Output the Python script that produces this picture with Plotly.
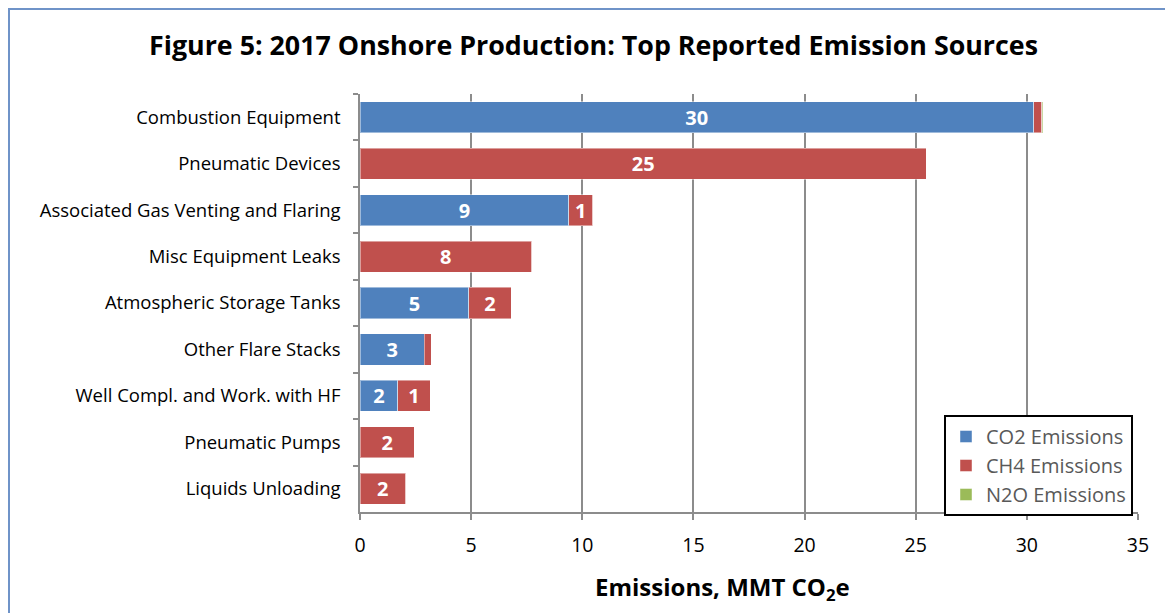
import plotly.graph_objects as go

categories = ["Combustion Equipment", "Pneumatic Devices", "Associated Gas Venting and Flaring",
              "Misc Equipment Leaks", "Atmospheric Storage Tanks", "Other Flare Stacks",
              "Well Compl. and Work. with HF", "Pneumatic Pumps", "Liquids Unloading"]
co2 = [30.3, 0.02, 9.4, 0.0, 4.9, 2.9, 1.7, 0.0, 0.0]
ch4 = [0.37, 25.45, 1.07, 7.72, 1.9, 0.3, 1.45, 2.45, 2.05]
n2o = [0.05, 0.0, 0.0, 0.0, 0.0, 0.0, 0.0, 0.0, 0.0]
x_ticks = [0, 5, 10, 15, 20, 25, 30, 35]

FONT = "Open Sans"
def labels(vals):
    return [f"{round(v)}" if v >= 0.5 else "" for v in vals]

fig = go.Figure()
for name, vals, color in [("CO2 Emissions", co2, "#4F81BD"),
                          ("CH4 Emissions", ch4, "#C0504D"),
                          ("N2O Emissions", n2o, "#9BBB59")]:
    fig.add_trace(go.Bar(
        y=categories, x=vals, name=name, orientation="h",
        marker=dict(color=color, line=dict(color="rgba(255,255,255,0.45)", width=1)),
        text=labels(vals), textposition="inside", insidetextanchor="middle",
        textangle=0, constraintext="none",
        textfont=dict(family=FONT, size=20, color="white", weight="bold"),
        hoverinfo="x+name"))

# page has an 8px body margin; plot area targets page x 360-1138, y 94-512
fig.update_layout(
    barmode="stack", bargap=0.33,
    width=1165, height=605,
    margin=dict(l=352, r=35, t=86, b=101),
    paper_bgcolor="white", plot_bgcolor="white",
    title=dict(text="<b>Figure 5: 2017 Onshore Production: Top Reported Emission Sources</b>",
               x=(593.5 - 8) / 1165, xanchor="center", y=1 - 38 / 605, yanchor="middle",
               font=dict(family=FONT, size=26.8, color="black")),
    font=dict(family=FONT, color="black"),
    showlegend=True,
    legend=dict(x=(944 - 360) / 778, y=(512 - 415) / 418, xanchor="left", yanchor="top",
                bordercolor="black", borderwidth=2, bgcolor="white",
                font=dict(family=FONT, size=20, color="#595959"),
                traceorder="normal", itemwidth=30, tracegroupgap=0),
    xaxis=dict(range=[0, 35], tickvals=x_ticks, showgrid=True,
               gridcolor="#8C8C8C", gridwidth=1.5,
               showline=True, linecolor="#8C8C8C", linewidth=1.5,
               ticks="outside", ticklen=6, tickcolor="#8C8C8C", tickwidth=1.5,
               ticklabelstandoff=9,
               tickfont=dict(family=FONT, size=19.5, color="black"),
               zeroline=False, fixedrange=True),
    yaxis=dict(autorange="reversed", showline=True, linecolor="#8C8C8C", linewidth=1.5,
               ticks="outside", ticklen=5, tickcolor="#8C8C8C", tickwidth=1.5,
               tickson="boundaries", ticklabelstandoff=14,
               tickfont=dict(family=FONT, size=18.5, color="black"),
               showgrid=False, fixedrange=True),
)

# x-axis title (placed left of centre, as in the reference)
fig.add_annotation(text="<b>Emissions, MMT CO<sub>2</sub>e</b>", xref="paper", yref="paper",
                   x=(722 - 360) / 778, y=(512 - 588) / 418, xanchor="center", yanchor="middle",
                   showarrow=False, font=dict(family=FONT, size=24, color="black"))

fig.add_shape(type="rect", xref="paper", yref="paper",
              x0=(1 - 352) / 778, x1=1.2, y0=-0.4, y1=(504 - 1) / 418,
              line=dict(color="#6F93C8", width=2), fillcolor="rgba(0,0,0,0)", layer="below")

fig.write_html("out.html")
